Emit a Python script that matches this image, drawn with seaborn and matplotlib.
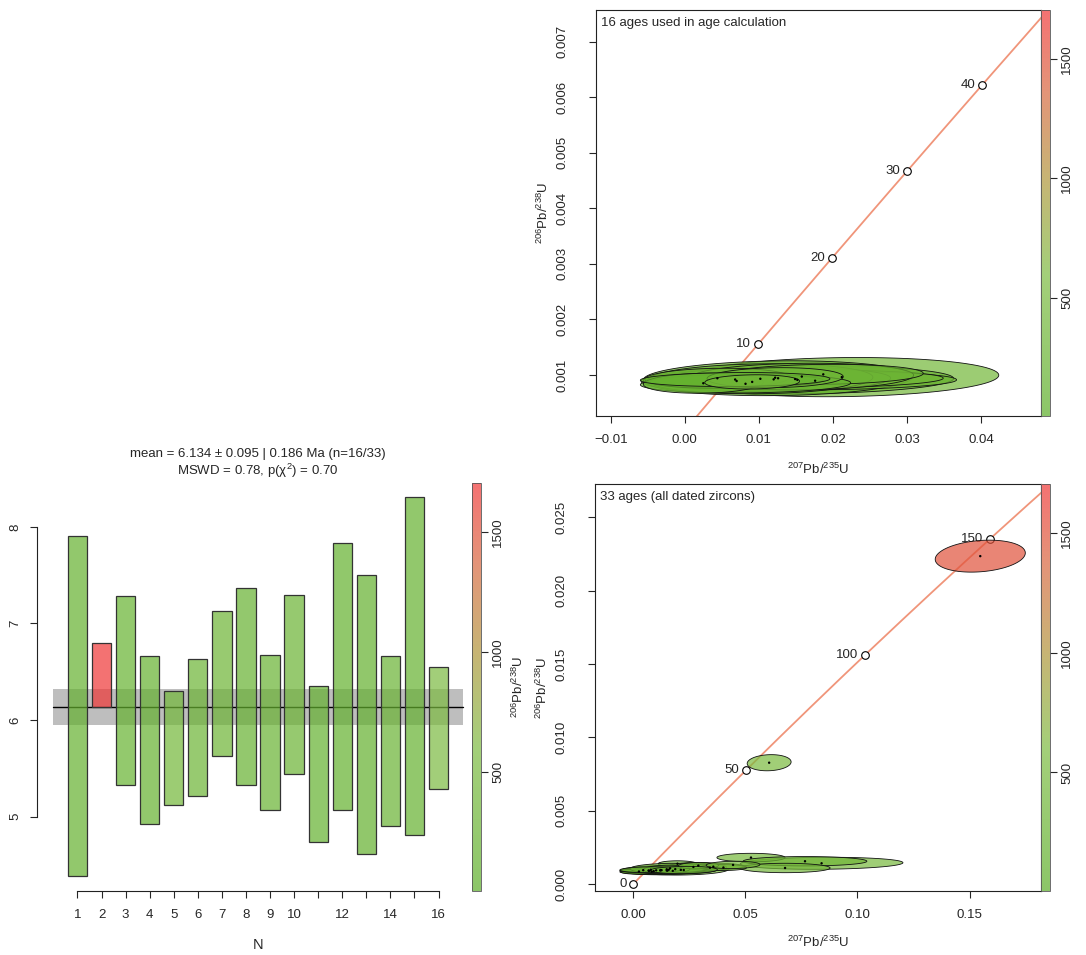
import numpy as np
import matplotlib
matplotlib.use("Agg")
import matplotlib.pyplot as plt
import seaborn as sns
from matplotlib.colors import LinearSegmentedColormap, Normalize
from matplotlib.cm import ScalarMappable

# ---------- data ----------
# weighted mean panel: 206Pb/238U ages (Ma) with error bars
grain = list(range(1, 17))
age_lo = [4.388, 6.140, 5.325, 4.924, 5.121, 5.217, 5.625, 5.325,
          5.065, 5.439, 4.733, 5.065, 4.616, 4.906, 4.810, 5.290]
age_hi = [7.903, 6.800, 7.284, 6.659, 6.303, 6.628, 7.132, 7.364,
          6.669, 7.291, 6.348, 7.838, 7.499, 6.666, 8.308, 6.552]
age_col = [180, 1700, 200, 170, 420, 300, 330, 190,
           230, 280, 160, 150, 140, 260, 170, 600]
mean_age = 6.134
mean_err = 0.186
wm_title = ("mean = 6.134 \u00b1 0.095 | 0.186 Ma (n=16/33)\n"
            "MSWD = 0.78, p(\u03c7$^{2}$) = 0.70")
wm_yticks = [5, 6, 7, 8]
wm_xlabels = ["1", "2", "3", "4", "5", "6", "7", "8", "9", "10",
              "", "12", "", "14", "", "16"]

# the 16 zircons used in the age: 207/235, 206/238, half widths, rho, colour value
used_x = [0.0212, 0.0152, 0.0126, 0.0176, 0.0149, 0.0120, 0.0102, 0.0158,
          0.0187, 0.0082, 0.0070, 0.0044, 0.0025, 0.0122, 0.0068, 0.0091]
used_y = [0.00096, 0.00091, 0.00094, 0.000895, 0.000925, 0.00092, 0.00093, 0.00097,
          0.00101, 0.00084, 0.00089, 0.00094, 0.00085, 0.00095, 0.000917, 0.000874]
used_sx = [0.0212, 0.0211, 0.0182, 0.0191, 0.0200, 0.0158, 0.0152, 0.0151,
           0.0135, 0.0142, 0.0117, 0.0098, 0.0081, 0.0092, 0.0128, 0.0064]
used_sy = [0.000353, 0.000254, 0.000314, 0.000165, 0.000165, 0.00022, 0.00027, 0.00024,
           0.00018, 0.000165, 0.00012, 0.00018, 0.00018, 0.00018, 0.000126, 0.000128]
used_rho = [0.1] * 16
used_col = [420, 300, 250, 350, 400, 280, 330, 450,
            300, 260, 350, 300, 250, 380, 200, 420]

# the other 17 dated zircons
other_x = [0.1548, 0.0606, 0.0840, 0.0525, 0.0766, 0.0677, 0.0197, 0.0268, 0.0357,
           0.0342, 0.0164, 0.0149, 0.0402, 0.0078, 0.0290, 0.0225, 0.0445]
other_y = [0.02236, 0.00827, 0.00141, 0.00180, 0.00155, 0.00109, 0.00138, 0.00116, 0.00118,
           0.00111, 0.00107, 0.00100, 0.00112, 0.00097, 0.00125, 0.00095, 0.00130]
other_sx = [0.0201, 0.0098, 0.0363, 0.0152, 0.0276, 0.0201, 0.0086, 0.0119, 0.0134,
            0.0074, 0.0179, 0.0104, 0.0104, 0.0138, 0.0090, 0.0150, 0.0120]
other_sy = [0.00109, 0.00055, 0.00041, 0.00029, 0.00032, 0.00032, 0.00020, 0.00030, 0.00023,
            0.00023, 0.00034, 0.00028, 0.00020, 0.00020, 0.00022, 0.00025, 0.00025]
other_rho = [0.2, 0.1, 0.1, 0.0, 0.0, 0.0, 0.0, 0.1, 0.1,
             0.1, 0.1, 0.1, 0.0, 0.1, 0.1, 0.1, 0.1]
other_col = [1500, 560, 520, 480, 400, 460, 450, 400, 420,
             380, 350, 400, 450, 320, 420, 380, 460]

conc_top = [10, 20, 30, 40]
conc_bot = [0, 50, 100, 150]
top_xticks = [-0.01, 0.0, 0.01, 0.02, 0.03, 0.04]
top_xlabels = ["\u22120.01", "0.00", "0.01", "0.02", "0.03", "0.04"]
top_yticks = [0.001, 0.002, 0.003, 0.004, 0.005, 0.006, 0.007]
bot_xticks = [0.0, 0.05, 0.10, 0.15]
bot_yticks = [0.0, 0.005, 0.010, 0.015, 0.020, 0.025]
cbar_ticks = [500, 1000, 1500]
col_range = (5, 1705)

L235 = 9.8485e-4  # per Myr
L238 = 1.55125e-4

# ---------- style ----------
sns.set_style("ticks")
plt.rcParams["font.family"] = ["Liberation Sans", "DejaVu Sans"]
plt.rcParams["mathtext.fontset"] = "custom"
plt.rcParams["mathtext.rm"] = "Liberation Sans"
plt.rcParams["mathtext.it"] = "Liberation Sans:italic"
plt.rcParams["axes.edgecolor"] = "#222222"
FS = 9.5

ALPHA = 0.7
cmap = LinearSegmentedColormap.from_list(
    "u", list(zip([0, 0.35, 0.58, 0.80, 1.0],
                  ["#8cc668", "#a3cf79", "#c6b574", "#e39478", "#f47272"])))
norm = Normalize(*col_range)


def fill_rgba(v):
    # colour that looks like the colourbar once laid with ALPHA over white
    app = np.array(cmap(norm(v))[:3])
    base = np.clip((app - (1 - ALPHA)) / ALPHA, 0, 1)
    return (*base, ALPHA)


W, H = 1086, 955
fig = plt.figure(figsize=(W / 100, H / 100), dpi=100)


def px_axes(x0, y0, x1, y1):
    return fig.add_axes([x0 / W, 1 - y1 / H, (x1 - x0) / W, (y1 - y0) / H])


ax_wm = px_axes(37, 482, 479, 891)
cax_wm = px_axes(472, 483, 481, 891)
ax_tr = px_axes(596, 10, 1041, 416)
cax_tr = px_axes(1041, 10, 1050, 416)
ax_br = px_axes(595, 484, 1041, 891)
cax_br = px_axes(1041, 484, 1050, 891)


def colourbar(cax, label=None):
    cb = fig.colorbar(ScalarMappable(norm=norm, cmap=cmap), cax=cax, ticks=cbar_ticks)
    cb.outline.set_linewidth(0.6)
    cb.outline.set_edgecolor("#555555")
    cax.tick_params(length=5, width=0.8, labelsize=FS, pad=3)
    for lab in cax.get_yticklabels():
        lab.set_rotation(90)
        lab.set_va("center")
    if label:
        cb.set_label(label, fontsize=FS, labelpad=5)


def rot_yticks(ax):
    for lab in ax.get_yticklabels():
        lab.set_rotation(90)
        lab.set_va("center")


def ellipses(ax, xs, ys, sxs, sys_, rhos, cols):
    t = np.linspace(0, 2 * np.pi, 160)
    for x, y, sx, sy, r, c in zip(xs, ys, sxs, sys_, rhos, cols):
        ex = x + sx * np.cos(t)
        ey = y + sy * (r * np.cos(t) + np.sqrt(1 - r * r) * np.sin(t))
        ax.fill(ex, ey, facecolor=fill_rgba(c), edgecolor="#111111",
                linewidth=0.6, zorder=3)
    sns.scatterplot(x=xs, y=ys, ax=ax, s=3, color="black",
                    edgecolor="none", zorder=4, legend=False)


def concordia(ax, tmax, marks):
    t = np.linspace(0, tmax, 500)
    sns.lineplot(x=np.expm1(L235 * t), y=np.expm1(L238 * t), ax=ax,
                 color="#f0957a", linewidth=1.3, sort=False, estimator=None, zorder=1)
    mt = np.array(marks, dtype=float)
    mx, my = np.expm1(L235 * mt), np.expm1(L238 * mt)
    sns.scatterplot(x=mx, y=my, ax=ax, s=30, color="white", edgecolor="black",
                    linewidth=0.8, zorder=2, legend=False)
    for m, xx, yy in zip(marks, mx, my):
        ax.annotate(str(m), (xx, yy), xytext=(-5, 0), textcoords="offset points",
                    ha="right", va="center", fontsize=FS, zorder=2)


# ---------- 1) weighted mean ----------
ax_wm.fill_between([0, 17], mean_age - mean_err, mean_age + mean_err,
                   color="#bebebe", linewidth=0, zorder=1)
sns.lineplot(x=[0, 17], y=[mean_age, mean_age], ax=ax_wm, color="black",
             linewidth=1.0, zorder=1.5)
ax_wm.bar(grain, np.subtract(age_hi, age_lo), bottom=age_lo, width=0.8,
          color=[fill_rgba(v) for v in age_col], edgecolor="#333333",
          linewidth=0.9, zorder=2)
ax_wm.set_xlim(-0.68, 17.68)
ax_wm.set_ylim(4.23, 8.465)
ax_wm.spines[["top", "right"]].set_visible(False)
ax_wm.spines["left"].set_bounds(5, 8)
ax_wm.spines["bottom"].set_bounds(1, 16)
ax_wm.set_yticks(wm_yticks)
ax_wm.set_xticks(grain)
ax_wm.set_xticklabels(wm_xlabels)
ax_wm.tick_params(direction="out", length=5, width=0.8, labelsize=FS)
ax_wm.tick_params(axis="y", pad=6)
ax_wm.tick_params(axis="x", pad=8)
rot_yticks(ax_wm)
ax_wm.set_xlabel("N", fontsize=10.5)
ax_wm.xaxis.set_label_coords(0.5, -0.115)
ax_wm.set_title(wm_title, fontsize=FS, pad=5, linespacing=1.15)
colourbar(cax_wm, r"$^{206}$Pb/$^{238}$U")

# ---------- 2) concordia, used ages ----------
concordia(ax_tr, 60, conc_top)
ellipses(ax_tr, used_x, used_y, used_sx, used_sy, used_rho, used_col)
ax_tr.set_xlim(-0.01199, 0.0481)
ax_tr.set_ylim(0.00026, 0.00757)
ax_tr.set_xticks(top_xticks)
ax_tr.set_xticklabels(top_xlabels)
ax_tr.set_yticks(top_yticks)
ax_tr.set_yticklabels([f"{v:.3f}" for v in top_yticks])
ax_tr.text(0.012, 0.982, "16 ages used in age calculation", transform=ax_tr.transAxes,
           ha="left", va="top", fontsize=FS)
colourbar(cax_tr)

# ---------- 3) concordia, all ages ----------
concordia(ax_br, 200, conc_bot)
ellipses(ax_br, used_x + other_x, used_y + other_y, used_sx + other_sx,
         used_sy + other_sy, used_rho + other_rho, used_col + other_col)
ax_br.set_xlim(-0.0171, 0.1819)
ax_br.set_ylim(-0.00048, 0.02728)
ax_br.set_xticks(bot_xticks)
ax_br.set_xticklabels([f"{v:.2f}" for v in bot_xticks])
ax_br.set_yticks(bot_yticks)
ax_br.set_yticklabels([f"{v:.3f}" for v in bot_yticks])
ax_br.text(0.012, 0.982, "33 ages (all dated zircons)", transform=ax_br.transAxes,
           ha="left", va="top", fontsize=FS)
colourbar(cax_br)

for ax in (ax_tr, ax_br):
    for s in ax.spines.values():
        s.set_linewidth(0.8)
    ax.tick_params(direction="out", length=5, width=0.8, labelsize=FS)
    ax.tick_params(axis="y", pad=15)
    ax.tick_params(axis="x", pad=8)
    rot_yticks(ax)
    ax.set_xlabel(r"$^{207}$Pb/$^{235}$U", fontsize=FS)
    ax.set_ylabel(r"$^{206}$Pb/$^{238}$U", fontsize=FS)
    ax.yaxis.set_label_coords(-0.100, 0.5)
ax_tr.xaxis.set_label_coords(0.5, -0.112)
ax_br.xaxis.set_label_coords(0.5, -0.108)

fig.savefig("out.png", dpi=100)
